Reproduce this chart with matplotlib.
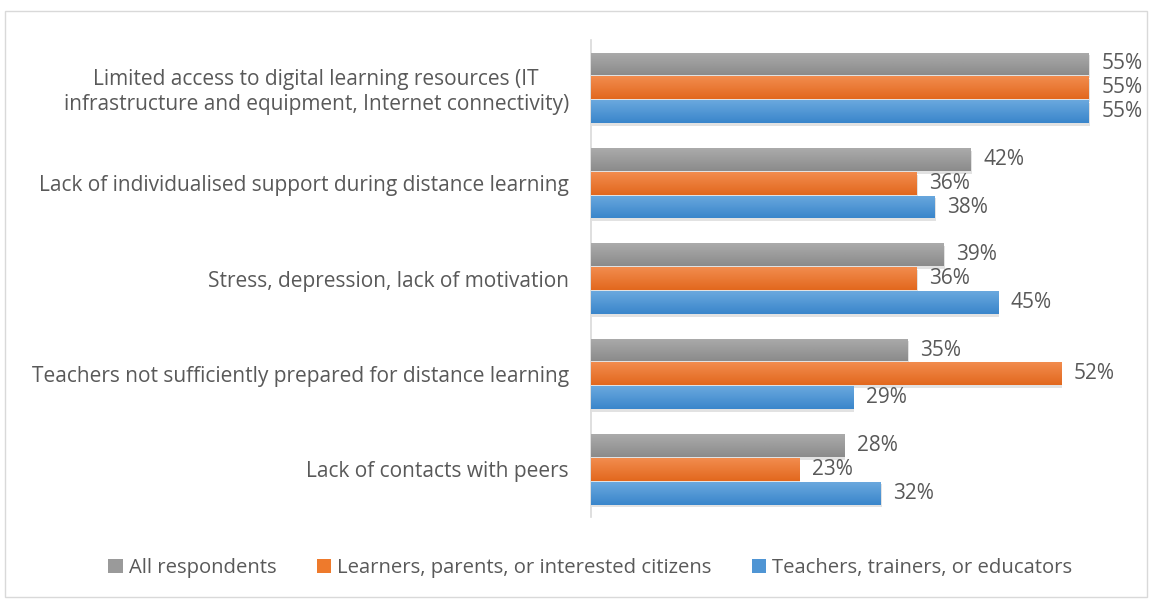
"""Horizontal grouped bar chart: barriers to distance learning."""

import numpy as np
import matplotlib
matplotlib.use("Agg")
import matplotlib.pyplot as plt
from matplotlib.colors import LinearSegmentedColormap
from matplotlib.patches import Patch, Rectangle
import matplotlib.patheffects as pe

plt.rcParams["font.family"] = ["Open Sans", "DejaVu Sans"]

categories = [
    "Limited access to digital learning resources (IT\ninfrastructure and equipment, Internet connectivity)",
    "Lack of individualised support during distance learning",
    "Stress, depression, lack of motivation",
    "Teachers not sufficiently prepared for distance learning",
    "Lack of contacts with peers",
]
series_names = [
    "All respondents",
    "Learners, parents, or interested citizens",
    "Teachers, trainers, or educators",
]
all_resp = [55, 42, 39, 35, 28]
learners = [55, 36, 36, 52, 23]
teachers = [55, 38, 45, 29, 32]

# top / bottom gradient colours per series
grads = [("#ababab", "#8b8b8b"), ("#f28c4e", "#e2681e"), ("#6aa8de", "#3a86cb")]
mids = ["#9a9a9a", "#ee7a2c", "#4f95d4"]
txt = "#595959"
fs = 15

fig = plt.figure(figsize=(11.51, 5.99), dpi=100)
ax = fig.add_axes([0.5135, 0.137, 0.4715, 0.796])

n = len(categories)
ypos = np.arange(n)
h = 0.25
offsets = [-h, 0, h]
values = [all_resp, learners, teachers]

for vals, off, (c_top, c_bot), mid in zip(values, offsets, grads, mids):
    cmap = LinearSegmentedColormap.from_list("g", [c_top, c_bot])
    bars = ax.barh(ypos + off, vals, height=h * 0.96, color=mid, zorder=2,
                   path_effects=[pe.SimplePatchShadow(offset=(0.8, -2.0), alpha=0.18,
                                                      shadow_rgbFace="#606060"),
                                 pe.Normal()])
    for b, v in zip(bars, vals):
        y0, y1 = b.get_y(), b.get_y() + b.get_height()
        # y axis is inverted, so origin="lower" puts row 0 (light) on top
        im = ax.imshow(np.linspace(0, 1, 50).reshape(-1, 1), cmap=cmap, aspect="auto",
                       extent=[0, v, y0, y1], origin="lower", zorder=3)
        im.set_clip_path(b)
        ax.text(v + 1.4, b.get_y() + b.get_height() / 2, f"{v}%", va="center",
                ha="left", fontsize=fs, color=txt, zorder=4)

ax.set_xlim(0, 60)
ax.set_ylim(n - 0.5, -0.5)
ax.set_yticks(ypos)
ax.set_yticklabels(categories, fontsize=fs, color=txt)
ax.set_xticks([])
for s in ["top", "right", "bottom"]:
    ax.spines[s].set_visible(False)
ax.spines["left"].set_color("#d9d9d9")
ax.spines["left"].set_linewidth(1.2)

for lbl in ax.get_yticklabels():
    lbl.set_ha("right")
    lbl.set_multialignment("center")
ax.tick_params(axis="y", length=0, pad=16)

handles = [Patch(facecolor=m, edgecolor="none") for m in mids]
fig.legend(handles, series_names, loc="center", bbox_to_anchor=(0.513, 0.052), ncol=3,
           frameon=False, fontsize=14.6, labelcolor=txt, handlelength=0.7,
           handleheight=0.7, handletextpad=0.3, columnspacing=2.0)

fig.patches.append(Rectangle((5 / 1151, 0.003), 1 - 9 / 1151, 1 - 11 / 599 - 0.003,
                             transform=fig.transFigure, fill=False,
                             edgecolor="#d9d9d9", linewidth=1))

fig.savefig("out.png", dpi=100)
plt.close(fig)
